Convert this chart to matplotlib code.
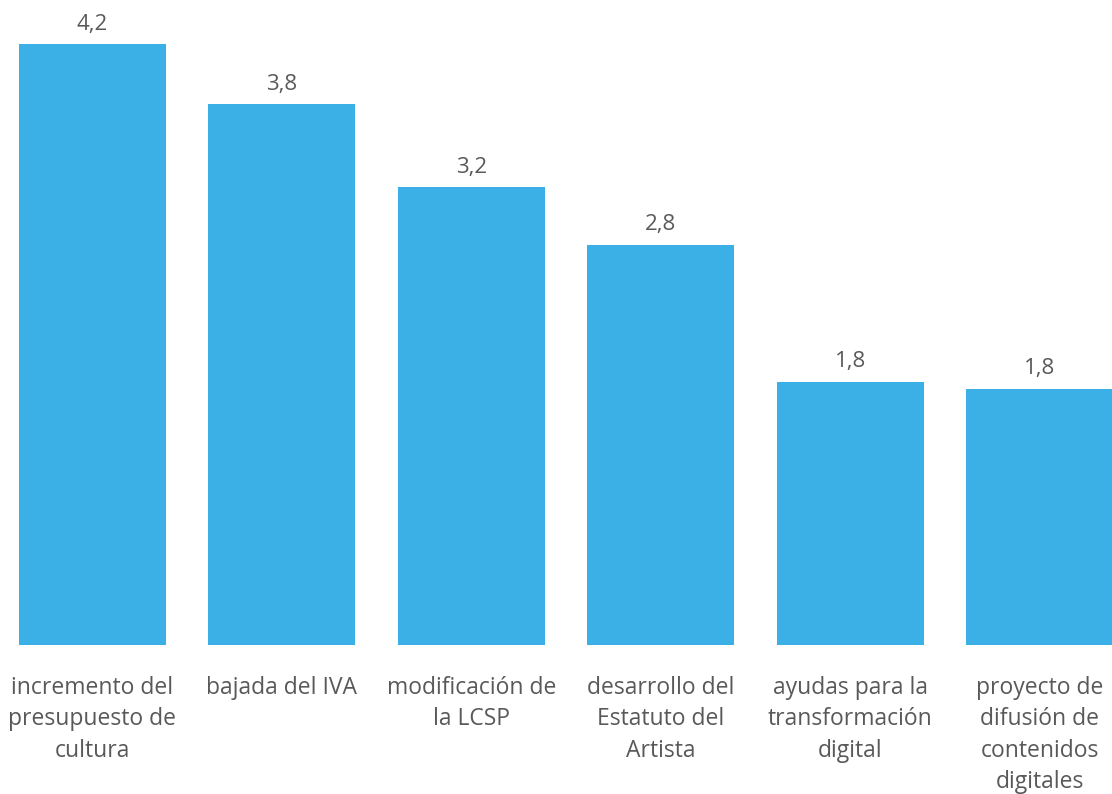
import matplotlib
matplotlib.use("Agg")
import matplotlib.pyplot as plt

categories = [
    "incremento del\npresupuesto de\ncultura",
    "bajada del IVA",
    "modificación de\nla LCSP",
    "desarrollo del\nEstatuto del\nArtista",
    "ayudas para la\ntransformación\ndigital",
    "proyecto de\ndifusión de\ncontenidos\ndigitales",
]
values = [4.2, 3.78, 3.2, 2.8, 1.84, 1.79]

plt.rcParams['font.family'] = ['Open Sans', 'DejaVu Sans']
bar_color = "#3AB0E6"
text_color = "#595959"

fig = plt.figure(figsize=(11.12, 7.94), dpi=100)
ax = fig.add_axes([0, 0.1877, 1, 0.8123])
x = list(range(len(values)))
bars = ax.bar(x, values, width=0.776, color=bar_color)
ax.set_xlim(-0.488, 5.382)
ax.set_ylim(0, 4.51)
for xi, v in zip(x, values):
    ax.annotate(f"{v:.1f}".replace(".", ","), (xi, v), xytext=(0, 7),
                textcoords="offset points", ha="center", va="bottom",
                fontsize=16, color=text_color)
ax.set_xticks(x)
ax.set_xticklabels(categories, fontsize=16.5, color=text_color, linespacing=1.42, va="top")
ax.tick_params(axis="x", length=0, pad=22)
ax.set_yticks([])
for s in ax.spines.values():
    s.set_visible(False)
fig.savefig("out.png", dpi=100)
